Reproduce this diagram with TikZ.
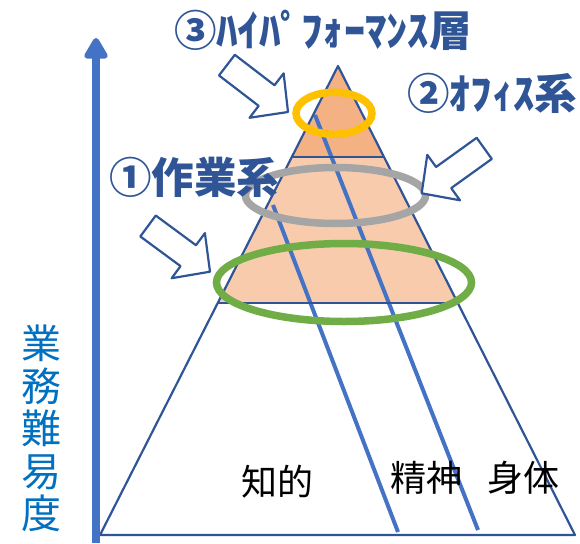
\documentclass[tikz,border=0pt]{standalone}
\usepackage{fontspec}
\newfontfamily\jp{Noto Sans CJK JP}
\usetikzlibrary{arrows.meta,calc}
\definecolor{dkblue}{HTML}{2F5597}
\definecolor{mdblue}{HTML}{4472C4}
\definecolor{axtext}{HTML}{0070C0}
\definecolor{bandA}{HTML}{F4B183}
\definecolor{bandB}{HTML}{F8CBAD}
\definecolor{ringY}{HTML}{FFC000}
\definecolor{ringG}{HTML}{A5A5A5}
\definecolor{ringN}{HTML}{70AD47}
\tikzset{
  outline/.style={draw=dkblue, line width=2.2pt, line join=round},
  divline/.style={draw=mdblue, line width=4pt},
  ring/.style={line width=7.5pt},
  labeltext/.style={font=\jp\bfseries\fontsize{42.5}{42.5}\selectfont, text=dkblue, anchor=west, inner sep=0pt},
  areatext/.style={font=\jp\fontsize{36}{36}\selectfont, text=black, inner sep=0pt},
  blockarrow/.pic={\draw[outline, fill=white] (0,0) -- (-27,28) -- (-27,13) -- (-77,13) -- (-77,-13) -- (-27,-13) -- (-27,-28) -- cycle;}
}
\begin{document}
\begin{tikzpicture}[x=1pt,y=-1pt]
\useasboundingbox (0,0) rectangle (580,543);
% triangle corners
\coordinate (A) at (338,66);
\coordinate (BL) at (100,535);
\coordinate (BR) at (575,535);
\coordinate (L1) at ($(A)!0.194!(BL)$);
\coordinate (R1) at ($(A)!0.194!(BR)$);
\coordinate (L2) at ($(A)!0.5053!(BL)$);
\coordinate (R2) at ($(A)!0.5053!(BR)$);
% bands
\fill[bandA] (A) -- (L1) -- (R1) -- cycle;
\fill[bandB] (L1) -- (L2) -- (R2) -- (R1) -- cycle;
% divider lines
\coordinate (DA1) at (315,115);
\coordinate (DA2) at (478,530);
\coordinate (DB1) at (273,205);
\coordinate (DB2) at (398,532);
\draw[divline] (DA1) -- (DA2);
\draw[divline] (DB1) -- (DB2);
% triangle outline and band lines
\draw[outline] (A) -- (BL) -- (BR) -- cycle;
\draw[outline] (L1) -- (R1);
\draw[outline] (L2) -- (R2);
% axis
\coordinate (ax0) at (96,543);
\coordinate (ax1) at (96,38);
\draw[mdblue, line width=8pt, -{Triangle[length=24pt,width=26pt,round]}] (ax0) -- (ax1);
% rings
\draw[ring, ringY] (334,113.3) ellipse [x radius=38, y radius=21];
\draw[ring, ringG] (335.5,195.5) ellipse [x radius=90, y radius=28];
\draw[ring, ringN] (344,282.5) ellipse [x radius=127.5, y radius=39];
% block arrows
\pic[rotate=-37.5] at (288,112) {blockarrow};
\pic[rotate=-144.3] at (421.7,193.3) {blockarrow};
\pic[rotate=-36.4] at (210,271.7) {blockarrow};
% labels
\node[labeltext] (l3) at (174,30) {③ﾊｲﾊﾟﾌｫｰﾏﾝｽ層};
\node[labeltext] (l2) at (407,93) {②ｵﾌｨｽ系};
\node[labeltext] (l1) at (109,177) {①作業系};
\node[font=\jp\fontsize{40}{42.5}\selectfont, text=axtext, align=center, inner sep=0pt] (axlabel) at (41,428.5) {業\\務\\難\\易\\度};
\node[areatext] (t1) at (277.5,481.5) {知的};
\node[areatext] (t2) at (426,477.5) {精神};
\node[areatext] (t3) at (523,477.5) {身体};
\end{tikzpicture}
\end{document}
